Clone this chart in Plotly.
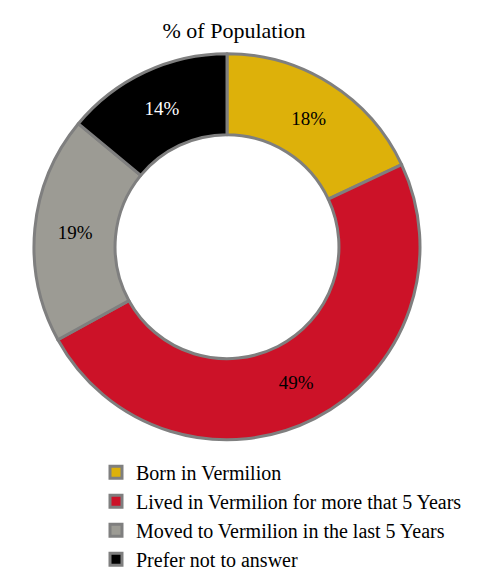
import plotly.graph_objects as go

labels = ["Born in Vermilion", "Lived in Vermilion for more that 5 Years",
          "Moved to Vermilion in the last 5 Years", "Prefer not to answer"]
values = [18, 49, 19, 14]
colors = ["#DDB10A", "#CC1228", "#9C9B94", "#000000"]
text_colors = ["black", "black", "black", "white"]

FONT = "Liberation Serif"
W, H = 483, 571
fig = go.Figure(go.Pie(
    labels=labels, values=values, hole=0.58, sort=False, direction="clockwise",
    rotation=0,
    marker=dict(colors=colors, line=dict(color="#7F7F7F", width=3)),
    texttemplate="%{percent:.0%}", textposition="inside", insidetextorientation="horizontal",
    textfont=dict(family=FONT, size=19, color=text_colors),
    domain=dict(x=[26 / W, 412 / W], y=[1 - 435 / H, 1 - 45 / H]),
))
fig.update_layout(
    width=W, height=H, margin=dict(l=0, r=0, t=0, b=0),
    paper_bgcolor="white", plot_bgcolor="white",
    title=dict(text="% of Population", x=226 / W, xanchor="center", y=1 - 22 / H, yanchor="middle",
               font=dict(family=FONT, size=22, color="black")),
    font=dict(family=FONT, color="black"),
    legend=dict(x=88 / W, xanchor="left", y=1 - 447 / H, yanchor="top",
                font=dict(family=FONT, size=20, color="black"),
                itemclick=False),
)
fig.write_html("out.html")
